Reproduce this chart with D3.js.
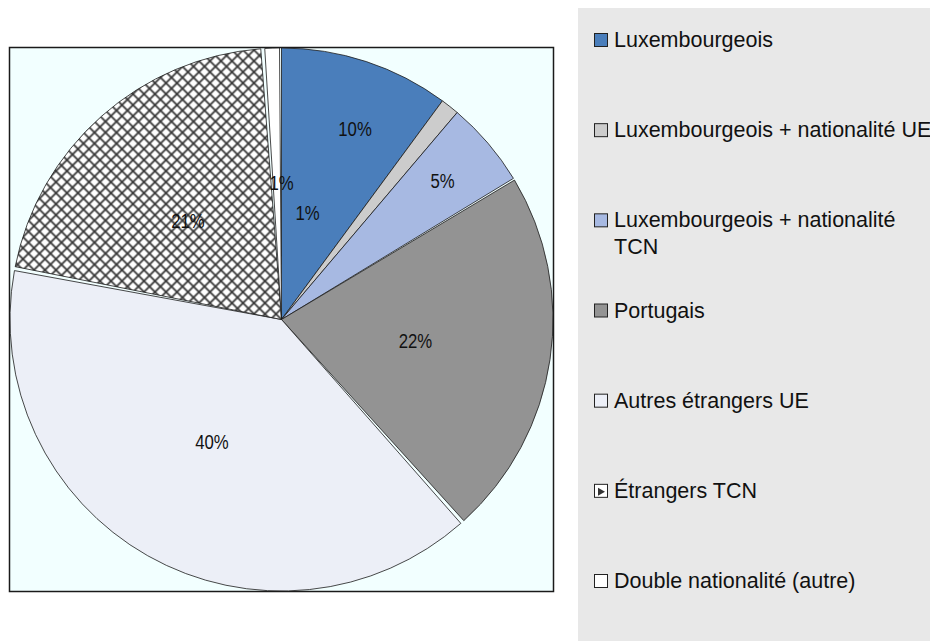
<!DOCTYPE html>
<html>
<head>
<meta charset="utf-8">
<script src="https://cdn.jsdelivr.net/npm/d3@7"></script>
<style>
  body { margin: 0; background: #fff; }
  svg { display: block; font-family: "Liberation Sans", Arial, sans-serif; }
</style>
</head>
<body>
<div id="chart"></div>
<script>
// categories, in the order they go round the pie (clockwise from 12 o'clock)
const categories = [
  'Luxembourgeois',
  'Luxembourgeois + nationalité UE',
  'Luxembourgeois + nationalité TCN',
  'Portugais',
  'Autres étrangers UE',
  'Étrangers TCN',
  'Double nationalité (autre)'
];
// share of population, %
const shares = [10.1, 1.1, 5.1, 22.1, 39.6, 20.9, 1.1];

// legend text lines (third item wraps)
const legendLines = [
  ['Luxembourgeois'],
  ['Luxembourgeois + nationalité UE'],
  ['Luxembourgeois + nationalité', 'TCN'],
  ['Portugais'],
  ['Autres étrangers UE'],
  ['Étrangers TCN'],
  ['Double nationalité (autre)']
];

const fills = ['#4a7ebb', '#cccccc', '#a7b9e2', '#939393', '#eceff7', 'url(#cross)', '#ffffff'];
// which slices are drawn with a white gap around them
const padded = [false, false, false, true, true, true, true];
// label placement: fraction of radius, angle shift in degrees
const labelPlace = [[0.75, 3], [0.40, -24.5], [0.78, 0], [0.5, 1], [0.52, 0], [0.5, -2], [0.5, 2]];

const width = 930, height = 641;

const svg = d3.select('#chart').append('svg')
  .attr('width', width)
  .attr('height', height);

const defs = svg.append('defs');
const cross = defs.append('pattern')
  .attr('id', 'cross')
  .attr('patternUnits', 'userSpaceOnUse')
  .attr('width', 11)
  .attr('height', 11);
cross.append('rect').attr('width', 11).attr('height', 11).attr('fill', '#fff');
cross.append('path')
  .attr('d', 'M0,0L11,11M11,0L0,11')
  .attr('stroke', '#383838')
  .attr('stroke-width', 1.8);

/* PLOT AREA */
const box = { x: 9.5, y: 47.5, w: 544, h: 544 };
svg.append('rect')
  .attr('x', box.x).attr('y', box.y)
  .attr('width', box.w).attr('height', box.h)
  .attr('fill', '#f2ffff')
  .attr('stroke', '#1a1a1a')
  .attr('stroke-width', 1.5);

const cx = box.x + box.w / 2, cy = box.y + box.h / 2;
const radius = 271.5;

const data = categories.map((c, i) => ({ name: c, value: shares[i], i: i }));
const total = d3.sum(shares);

const pie = d3.pie().sort(null).value(d => d.value);
const arcs = pie(data);

const arc = d3.arc()
  .innerRadius(0)
  .outerRadius(radius)
  .padRadius(radius)
  .padAngle(d => padded[d.data.i] ? 4 / radius : 0);

const g = svg.append('g').attr('transform', `translate(${cx},${cy})`);

g.selectAll('path.slice')
  .data(arcs)
  .enter()
  .append('path')
  .attr('class', 'slice')
  .attr('d', arc)
  .attr('fill', d => fills[d.data.i])
  .attr('stroke', '#1a1a1a')
  .attr('stroke-width', 0.8)
  .attr('stroke-linejoin', 'round');

const fmt = d3.format('.0%');

g.selectAll('text.lbl')
  .data(arcs)
  .enter()
  .append('text')
  .attr('class', 'lbl')
  .attr('transform', d => {
    let p = labelPlace[d.data.i];
    let a = (d.startAngle + d.endAngle) / 2 + p[1] * Math.PI / 180;
    let xy = d3.pointRadial(a, radius * p[0]);
    return `translate(${xy[0]},${xy[1]}) scale(0.86,1)`;
  })
  .attr('text-anchor', 'middle')
  .attr('dominant-baseline', 'central')
  .attr('font-size', 19.5)
  .attr('fill', '#111')
  .text(d => fmt(d.data.value / total));

/* LEGEND */
svg.append('rect')
  .attr('x', 578).attr('y', 8)
  .attr('width', width - 578).attr('height', height - 8)
  .attr('fill', '#e8e8e8');

const ly = d3.scalePoint().domain(categories).range([40, 581]);

const item = svg.selectAll('.key-item')
  .data(data)
  .enter()
  .append('g')
  .attr('class', 'key-item')
  .attr('transform', d => `translate(594,${ly(d.name)})`);

item.append('rect')
  .attr('x', 0.5).attr('y', -6.5)
  .attr('width', 13).attr('height', 13)
  .attr('fill', d => d.i === 5 ? '#fff' : fills[d.i])
  .attr('stroke', '#222')
  .attr('stroke-width', 1);

// small hatch mark inside the TCN swatch
item.filter(d => d.i === 5)
  .append('path')
  .attr('d', 'M4,-3L11,1L4,5Z')
  .attr('fill', '#333');

item.append('text')
  .attr('x', 20)
  .attr('font-size', 21.5)
  .attr('fill', '#111')
  .selectAll('tspan')
  .data(d => legendLines[d.i])
  .enter()
  .append('tspan')
  .attr('x', 20)
  .attr('y', (t, j) => j * 27)
  .attr('dominant-baseline', 'central')
  .text(t => t);
</script>
</body>
</html>
